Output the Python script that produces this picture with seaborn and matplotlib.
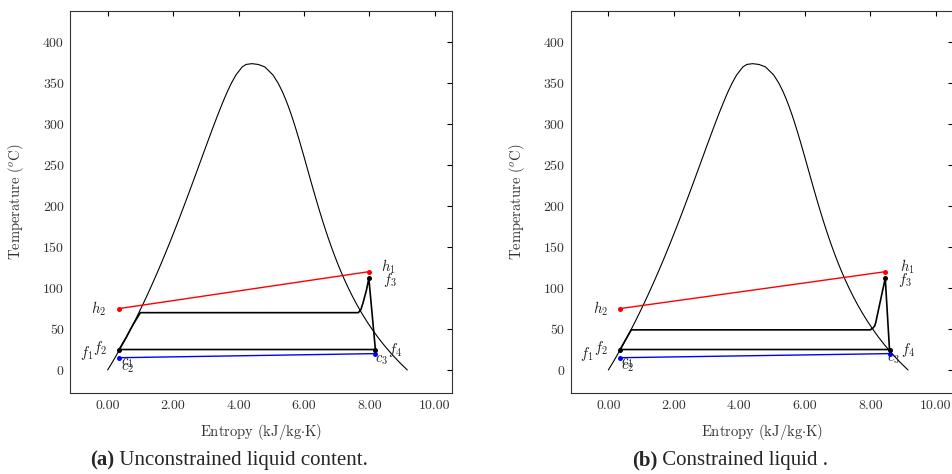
import matplotlib
matplotlib.use("Agg")
import matplotlib.pyplot as plt
import pandas as pd
import seaborn as sns

# Saturated water properties (temperature in degC, entropy in kJ/kg-K)
sat_T = [0.01, 10, 20, 30, 40, 50, 60, 70, 80, 90, 100, 110, 120, 130, 140,
         150, 160, 170, 180, 190, 200, 210, 220, 230, 240, 250, 260, 270, 280,
         290, 300, 310, 320, 330, 340, 350, 360, 370, 373.0, 373.95]
sat_sf = [0.0000, 0.1511, 0.2965, 0.4368, 0.5724, 0.7038, 0.8313, 0.9551,
          1.0756, 1.1929, 1.3072, 1.4188, 1.5279, 1.6346, 1.7392, 1.8418,
          1.9426, 2.0417, 2.1392, 2.2355, 2.3305, 2.4245, 2.5177, 2.6101,
          2.7020, 2.7935, 2.8849, 2.9765, 3.0685, 3.1612, 3.2552, 3.3510,
          3.4494, 3.5518, 3.6601, 3.7784, 3.9167, 4.1112, 4.2300, 4.4070]
sat_sg = [9.1556, 8.8999, 8.6661, 8.4520, 8.2557, 8.0748, 7.9081, 7.7540,
          7.6111, 7.4781, 7.3541, 7.2381, 7.1291, 7.0264, 6.9293, 6.8371,
          6.7491, 6.6650, 6.5840, 6.5059, 6.4302, 6.3563, 6.2840, 6.2128,
          6.1423, 6.0721, 6.0016, 5.9304, 5.8579, 5.7834, 5.7059, 5.6244,
          5.5372, 5.4422, 5.3356, 5.2110, 5.0536, 4.8012, 4.6000, 4.4070]

# (a) unconstrained liquid content
a_h_s, a_h_T = [7.98, 0.35], [120, 75]          # h1, h2
a_c_s, a_c_T = [0.35, 8.18], [15, 20]           # c1/c2, c3
a_f_s, a_f_T = [0.35, 7.98, 8.18], [25, 112, 25]  # f1/f2, f3, f4
a_heat_s = [0.35, 0.57, 0.77, 1.00, 7.66, 7.74, 7.81, 7.91, 7.98]
a_heat_T = [25, 40, 55, 70, 70, 74, 83, 98, 112]

# (b) constrained liquid
b_h_s, b_h_T = [8.46, 0.36], [120, 75]
b_c_s, b_c_T = [0.36, 8.59], [15, 20]
b_f_s, b_f_T = [0.36, 8.46, 8.59], [25, 112, 25]
b_heat_s = [0.36, 0.50, 0.70, 8.00, 8.08, 8.14, 8.17, 8.46]
b_heat_T = [25, 35, 49, 49, 51, 54, 58, 112]

x_ticks = [0, 2, 4, 6, 8, 10]
y_ticks = [0, 50, 100, 150, 200, 250, 300, 350, 400]

sns.set_style("white")
plt.rcParams["font.family"] = ["cmr10"]
plt.rcParams["mathtext.fontset"] = "cm"
plt.rcParams["axes.formatter.use_mathtext"] = True

fig = plt.figure(figsize=(9.52, 4.74), dpi=100)
W, H = 952.0, 474.0
ax_a = fig.add_axes([70 / W, 81.3 / H, 382.3 / W, 382 / H])
ax_b = fig.add_axes([570.7 / W, 81.3 / H, 382.3 / W, 382 / H])

dome = pd.DataFrame({
    "s": sat_sf + sat_sg[::-1][1:],
    "T": sat_T + sat_T[::-1][1:],
})

TXT = "#333333"


def draw(ax, h_s, h_T, c_s, c_T, f_s, f_T, heat_s, heat_T, offsets):
    sns.lineplot(data=dome, x="s", y="T", sort=False, estimator=None,
                 color="black", lw=0.8, ax=ax)
    sns.lineplot(x=h_s, y=h_T, sort=False, estimator=None, color="#ff0000",
                 lw=1.0, ax=ax)
    sns.lineplot(x=c_s, y=c_T, sort=False, estimator=None, color="#0000ff",
                 lw=1.0, ax=ax)
    cyc = pd.DataFrame({
        "s": [f_s[0]] + heat_s + [f_s[2], f_s[0]],
        "T": [f_T[0]] + heat_T + [f_T[2], f_T[0]],
    })
    sns.lineplot(data=cyc, x="s", y="T", sort=False, estimator=None,
                 color="black", lw=1.2, ax=ax)
    sns.scatterplot(x=h_s, y=h_T, color="#ff0000", s=13, linewidth=0, ax=ax,
                    zorder=5)
    sns.scatterplot(x=c_s, y=c_T, color="#0000ff", s=13, linewidth=0, ax=ax,
                    zorder=5)
    sns.scatterplot(x=f_s, y=f_T, color="black", s=13, linewidth=0, ax=ax,
                    zorder=5)

    pts = {
        "h_1": (h_s[0], h_T[0]), "h_2": (h_s[1], h_T[1]),
        "c_1": (c_s[0], c_T[0]), "c_2": (c_s[0], c_T[0]), "c_3": (c_s[1], c_T[1]),
        "f_1": (f_s[0], f_T[0]), "f_2": (f_s[0], f_T[0]),
        "f_3": (f_s[1], f_T[1]), "f_4": (f_s[2], f_T[2]),
    }
    for name, (dx, dy) in offsets.items():
        ax.annotate(f"${name}$", xy=pts[name], xytext=(dx * 0.72, -dy * 0.72),
                    textcoords="offset points", ha="center", va="center",
                    fontsize=10.5, color="#222222")

    ax.set_xlim(-1.15, 10.53)
    ax.set_ylim(-27.7, 438.6)
    ax.set_xticks(x_ticks)
    ax.set_xticklabels([f"{v:.2f}" for v in x_ticks])
    ax.set_yticks(y_ticks)
    ax.set_yticklabels([str(v) for v in y_ticks])
    ax.tick_params(direction="in", top=True, right=True, length=3.5,
                   width=0.8, labelsize=10, colors="black", labelcolor=TXT)
    ax.tick_params(axis="x", pad=5.5)
    ax.tick_params(axis="y", pad=4.5)
    for sp in ax.spines.values():
        sp.set_visible(True)
        sp.set_color("#333333")
        sp.set_linewidth(0.8)
    ax.set_xlabel(r"Entropy (kJ/kg${\cdot}$K)", fontsize=10.5, color=TXT)
    ax.set_ylabel(r"Temperature ($^o$C)", fontsize=10.5, color=TXT)
    ax.xaxis.set_label_coords(0.5, -0.077)
    ax.yaxis.set_label_coords(-0.115, 0.5)


draw(ax_a, a_h_s, a_h_T, a_c_s, a_c_T, a_f_s, a_f_T, a_heat_s, a_heat_T,
     {"h_1": (20, -5), "f_3": (21, 2), "h_2": (-21, 0), "f_1": (-32, 3),
      "f_2": (-19, -2), "c_1": (8, 5), "c_2": (8, 10), "c_3": (6, 7),
      "f_4": (20, 0)})
draw(ax_b, b_h_s, b_h_T, b_c_s, b_c_T, b_f_s, b_f_T, b_heat_s, b_heat_T,
     {"h_1": (22, -5), "f_3": (20, 2), "h_2": (-20, 0), "f_1": (-33, 4),
      "f_2": (-19, -2), "c_1": (7, 5), "c_2": (7, 9), "c_3": (4, 6),
      "f_4": (19, 0)})


def caption(x_px, tag, rest):
    t = fig.text(x_px / W, 1 - 460 / H, tag, fontsize=15, weight="bold",
                 family="Liberation Serif", ha="left", va="center")
    fig.add_artist(plt.Annotation(rest, xy=(1, 0), xycoords=t, ha="left",
                                  va="bottom", fontsize=15,
                                  family="Liberation Serif"))


caption(90, "(a)", " Unconstrained liquid content.")
caption(631.7, "(b)", " Constrained liquid .")

fig.savefig("out.png", dpi=100)
